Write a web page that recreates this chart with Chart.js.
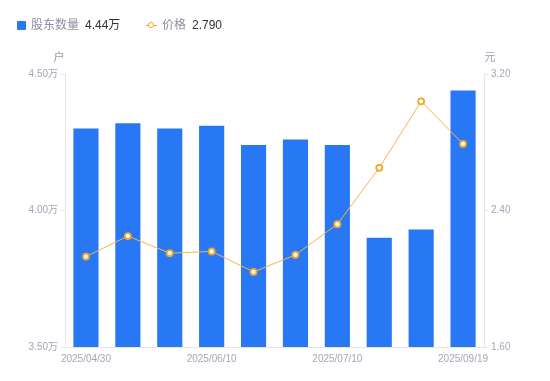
<!DOCTYPE html>
<html>
<head>
<meta charset="utf-8">
<script src="https://cdn.jsdelivr.net/npm/chart.js@4"></script>
<style>
  body { margin: 0; background: #fff; }
  #wrap { position: relative; width: 550px; height: 381px; }
  .legend { position: absolute; top: 16px; height: 18px; line-height: 18px; font-size: 12px;
    font-family: 'Liberation Sans', 'Noto Sans CJK SC', sans-serif; white-space: nowrap; }
  .legend .name { color: #8c8fa3; }
  .legend .val { color: #333; margin-left: 6px; }
</style>
</head>
<body>
<div id="wrap">
  <canvas id="holdersChart"></canvas>
  <div class="legend" style="left:17px;">
    <span style="display:inline-block;width:9px;height:9px;background:#2878f5;border-radius:1px;vertical-align:-1px;margin-right:5px;"></span><span class="name">股东数量</span><span class="val">4.44万</span>
  </div>
  <div class="legend" style="left:146px;">
    <span style="display:inline-block;position:relative;width:11px;height:9px;vertical-align:-1px;margin-right:5px;">
      <span style="position:absolute;left:0;top:4px;width:11px;height:1px;background:#f5a623;"></span>
      <span style="position:absolute;left:2px;top:1px;width:4px;height:4px;border:1.5px solid #f5a623;border-radius:50%;background:#fff;"></span>
    </span><span class="name">价格</span><span class="val">2.790</span>
  </div>
</div>
<script>
const dates = ['2025/04/30', '2025/05/20', '2025/05/31', '2025/06/10', '2025/06/20',
               '2025/06/30', '2025/07/10', '2025/08/20', '2025/08/31', '2025/09/19'];
const holders = [4.30, 4.32, 4.30, 4.31, 4.24, 4.26, 4.24, 3.90, 3.93, 4.44]; // 万户
const prices = [2.13, 2.25, 2.15, 2.16, 2.04, 2.14, 2.32, 2.65, 3.04, 2.79];   // 元
const shownDates = [0, 3, 6, 9];

const tickColor = '#a3a6b8';
const lineColor = '#e6e6ea';
const fontFam = "'Liberation Sans', 'Noto Sans CJK SC', sans-serif";

// unit titles above the two y axes
const unitTitles = {
  id: 'unitTitles',
  afterDraw(chart) {
    const ctx = chart.ctx;
    const top = chart.chartArea.top;
    ctx.save();
    ctx.font = '11px ' + fontFam;
    ctx.fillStyle = '#9a9cae';
    ctx.textAlign = 'center';
    ctx.textBaseline = 'middle';
    ctx.fillText('户', chart.scales.y.right - 6, top - 16);
    ctx.fillText('元', chart.scales.y1.left + 6, top - 16);
    ctx.restore();
  }
};

new Chart(document.getElementById('holdersChart'), {
  type: 'bar',
  data: {
    labels: dates,
    datasets: [{
      type: 'line',
      label: '价格',
      data: prices,
      yAxisID: 'y1',
      borderColor: '#f7b445',
      borderWidth: 1,
      pointRadius: 3,
      pointBorderWidth: 1.8,
      pointBorderColor: '#f5a623',
      pointBackgroundColor: '#fff',
      tension: 0,
      order: 0
    }, {
      label: '股东数量',
      data: holders,
      yAxisID: 'y',
      backgroundColor: '#2878f5',
      barPercentage: 0.6,
      categoryPercentage: 1,
      order: 1
    }]
  },
  options: {
    responsive: true,
    maintainAspectRatio: false,
    animation: false,
    layout: { padding: { top: 74, left: 0, right: 0, bottom: 0 } },
    plugins: {
      legend: { display: false },
      tooltip: { enabled: false }
    },
    scales: {
      x: {
        grid: { display: false, tickLength: 0 },
        border: { color: lineColor },
        ticks: {
          autoSkip: false,
          maxRotation: 0,
          padding: 6,
          color: tickColor,
          font: { family: fontFam, size: 10 },
          callback: (v, i) => shownDates.includes(i) ? dates[i] : ''
        },
        afterFit: s => { s.height = 34; }
      },
      y: {
        position: 'left',
        min: 3.5,
        max: 4.5,
        grid: { drawOnChartArea: false, tickLength: 4, color: lineColor },
        border: { color: lineColor },
        ticks: {
          stepSize: 0.5,
          padding: 3,
          color: tickColor,
          font: { family: fontFam, size: 10 },
          callback: v => v.toFixed(2) + '万'
        },
        afterFit: s => { s.width = 65; }
      },
      y1: {
        position: 'right',
        min: 1.6,
        max: 3.2,
        grid: { drawOnChartArea: false, tickLength: 4, color: lineColor },
        border: { color: lineColor },
        ticks: {
          stepSize: 0.8,
          padding: 3,
          color: tickColor,
          font: { family: fontFam, size: 10 },
          callback: v => v.toFixed(2)
        },
        afterFit: s => { s.width = 66; }
      }
    }
  },
  plugins: [unitTitles]
});
</script>
</body>
</html>
